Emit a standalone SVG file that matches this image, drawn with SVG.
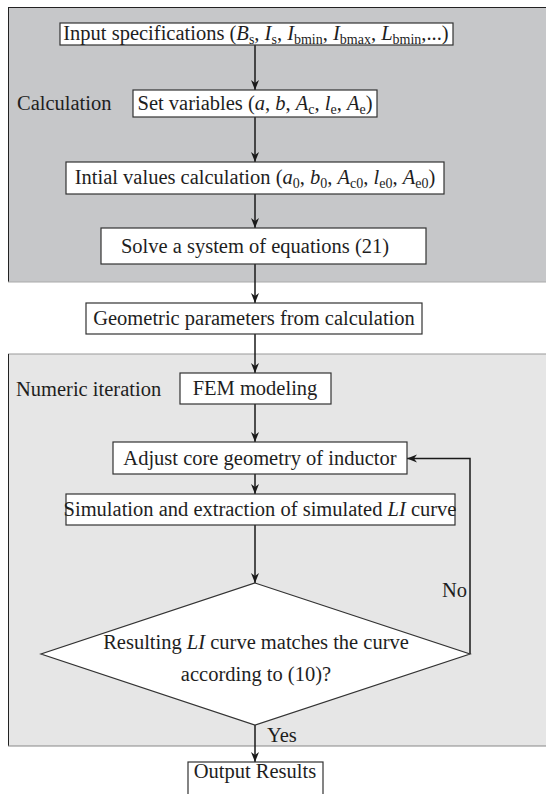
<svg xmlns="http://www.w3.org/2000/svg" width="546" height="794" viewBox="0 0 546 794">
<defs>
<marker id="arr" markerWidth="10" markerHeight="10" viewBox="0 0 10 10" refX="10" refY="5" orient="auto" markerUnits="userSpaceOnUse">
<path d="M0,1 L10,5 L0,9 L3,5 Z" fill="#1a1a1a"/>
</marker>
</defs>
<style>
text{font-family:"Liberation Serif","Times New Roman",serif;font-size:20.5px;fill:#1e1e1e}
.c{text-anchor:middle}
.i{font-style:italic}
.s{font-size:14px}
.box{fill:#fff;stroke:#333;stroke-width:1.2}
.ln{fill:none;stroke:#1a1a1a;stroke-width:1.5}
</style>
<g id="panels">
<rect x="8" y="7" width="540" height="275" fill="#c6c7c9"/>
<line x1="8" y1="7.5" x2="546" y2="7.5" stroke="#222" stroke-width="1"/>
<line x1="8.5" y1="7" x2="8.5" y2="282" stroke="#222" stroke-width="1"/>
<line x1="8" y1="282" x2="546" y2="282" stroke="#aaa" stroke-width="1"/>
<rect x="8" y="354" width="540" height="392" fill="#e6e6e6"/>
<line x1="8" y1="354" x2="546" y2="354" stroke="#999" stroke-width="1"/>
<line x1="8.5" y1="354" x2="8.5" y2="746" stroke="#222" stroke-width="1"/>
<line x1="8" y1="746" x2="546" y2="746" stroke="#888" stroke-width="1"/>
<text x="17" y="110">Calculation</text>
<text x="16" y="396">Numeric iteration</text>
</g>
<g id="connectors">
<line class="ln" x1="255" y1="45" x2="255" y2="90" marker-end="url(#arr)"/>
<line class="ln" x1="255" y1="117" x2="255" y2="162" marker-end="url(#arr)"/>
<line class="ln" x1="255" y1="194" x2="255" y2="228" marker-end="url(#arr)"/>
<line class="ln" x1="255" y1="264" x2="255" y2="303" marker-end="url(#arr)"/>
<line class="ln" x1="255" y1="334" x2="255" y2="373" marker-end="url(#arr)"/>
<line class="ln" x1="255" y1="404" x2="255" y2="442" marker-end="url(#arr)"/>
<line class="ln" x1="255" y1="474" x2="255" y2="494" marker-end="url(#arr)"/>
<line class="ln" x1="255" y1="525" x2="255" y2="583" marker-end="url(#arr)"/>
<polyline class="ln" points="470,654 470,458.5 407,458.5" marker-end="url(#arr)"/>
<line class="ln" x1="255" y1="725" x2="255" y2="762" marker-end="url(#arr)"/>
<text x="442" y="597">No</text>
<text x="267" y="742">Yes</text>
</g>
<g id="n1">
<rect class="box" x="60" y="23" width="393" height="22"/>
<text class="c" x="256" y="40">Input specifications (<tspan class="i">B</tspan><tspan class="s" dy="4">s</tspan><tspan dy="-4">, </tspan><tspan class="i">I</tspan><tspan class="s" dy="4">s</tspan><tspan dy="-4">, </tspan><tspan class="i">I</tspan><tspan class="s" dy="4">bmin</tspan><tspan dy="-4">, </tspan><tspan class="i">I</tspan><tspan class="s" dy="4">bmax</tspan><tspan dy="-4">, </tspan><tspan class="i">L</tspan><tspan class="s" dy="4">bmin</tspan><tspan dy="-4">,...)</tspan></text>
</g>
<g id="n2">
<rect class="box" x="133" y="90" width="244" height="27"/>
<text class="c" x="255" y="110">Set variables (<tspan class="i">a</tspan>, <tspan class="i">b</tspan>, <tspan class="i">A</tspan><tspan class="s" dy="4">c</tspan><tspan dy="-4">, </tspan><tspan class="i">l</tspan><tspan class="s" dy="4">e</tspan><tspan dy="-4">, </tspan><tspan class="i">A</tspan><tspan class="s" dy="4">e</tspan><tspan dy="-4">)</tspan></text>
</g>
<g id="n3">
<rect class="box" x="66" y="162" width="378" height="32"/>
<text class="c" x="255" y="184">Intial values calculation (<tspan class="i">a</tspan><tspan class="s" dy="4">0</tspan><tspan dy="-4">, </tspan><tspan class="i">b</tspan><tspan class="s" dy="4">0</tspan><tspan dy="-4">, </tspan><tspan class="i">A</tspan><tspan class="s" dy="4">c0</tspan><tspan dy="-4">, </tspan><tspan class="i">l</tspan><tspan class="s" dy="4">e0</tspan><tspan dy="-4">, </tspan><tspan class="i">A</tspan><tspan class="s" dy="4">e0</tspan><tspan dy="-4">)</tspan></text>
</g>
<g id="n4">
<rect class="box" x="101" y="228" width="325" height="36"/>
<text class="c" x="255" y="253">Solve a system of equations (21)</text>
</g>
<g id="n5">
<rect class="box" x="86" y="303" width="336" height="31"/>
<text class="c" x="254" y="325">Geometric parameters from calculation</text>
</g>
<g id="n6">
<rect class="box" x="180" y="373" width="151" height="31"/>
<text class="c" x="255" y="395">FEM modeling</text>
</g>
<g id="n7">
<rect class="box" x="113" y="442" width="294" height="32"/>
<text class="c" x="260" y="465">Adjust core geometry of inductor</text>
</g>
<g id="n8">
<rect class="box" x="66" y="494" width="389" height="31"/>
<text class="c" x="260" y="516">Simulation and extraction of simulated <tspan class="i">LI</tspan> curve</text>
</g>
<g id="n9">
<polygon points="255,583 470,654 255,725 41,654" fill="#fff" stroke="#333" stroke-width="1.2"/>
<text class="c" x="256" y="649">Resulting <tspan class="i">LI</tspan> curve matches the curve</text>
<text class="c" x="256" y="681">according to (10)?</text>
</g>
<g id="n10">
<rect class="box" x="188" y="762" width="135" height="40"/>
<text class="c" x="255" y="778">Output Results</text>
</g>
</svg>
